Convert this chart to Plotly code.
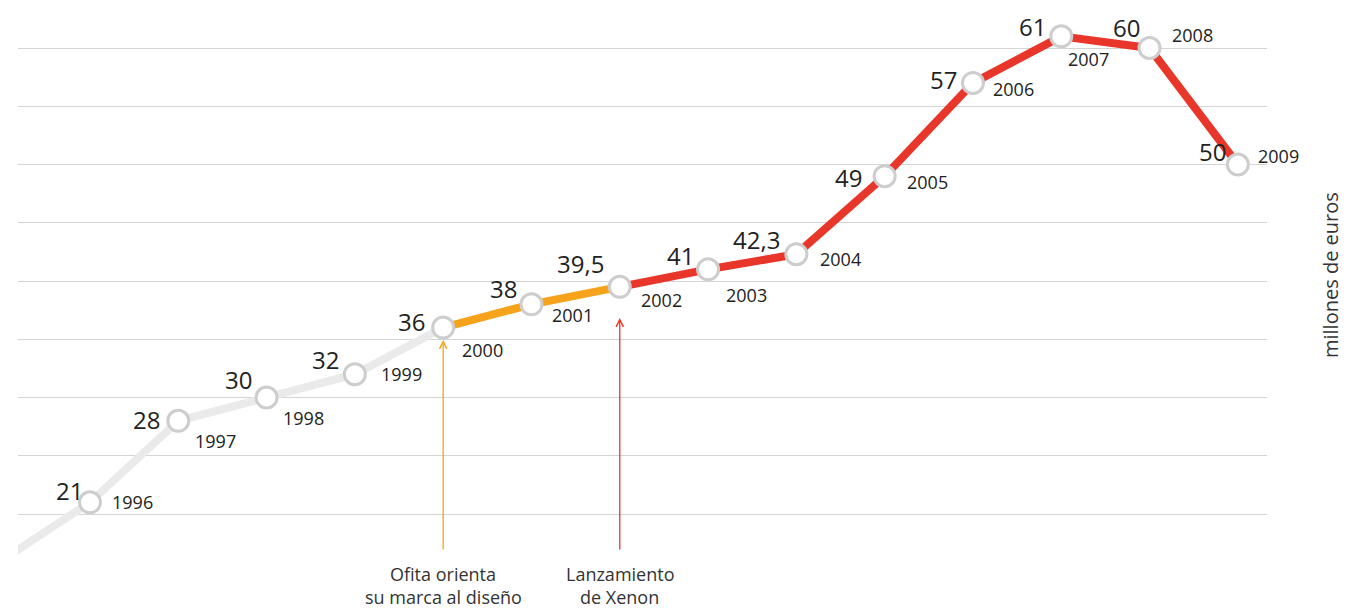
import plotly.graph_objects as go

# ---- data ----
years = [1996, 1997, 1998, 1999, 2000, 2001, 2002, 2003, 2004, 2005, 2006, 2007, 2008, 2009]
values = [21, 28, 30, 32, 36, 38, 39.5, 41, 42.3, 49, 57, 61, 60, 50]
value_labels = ["21", "28", "30", "32", "36", "38", "39,5", "41", "42,3", "49", "57", "61", "60", "50"]
year_labels = [str(y) for y in years]
lead_year, lead_value = 1995, 16  # line enters from the left edge

event_years = [2000, 2002]
event_lines = [["Ofita orienta", "su marca al diseño"], ["Lanzamiento", "de Xenon"]]
axis_title = "millones de euros"

# ---- styles / positions ----
GRAY = "#eaeaea"
ORANGE = "#f7a21b"
RED = "#e8372a"
TXT = "#222222"
FONT = "Open Sans"

val_off = [(-20, 12), (-32, 1), (-28, 18), (-29, 15), (-32, 6), (-28, 16), (-39, 23),
           (-28, 14), (-40, 15), (-36, -1), (-29, 3), (-29, 10), (-23, 21), (-25, 13)]
yr_off = [(20, 0), (15, -20), (14, -20), (24, 0), (17, -22), (19, -11), (19, -13),
          (16, -26), (22, -5), (20, -6), (18, -6), (5, -23), (20, 13), (18, 9)]
event_colors = [ORANGE, RED]
arrow_tip_px = [340, 318]
event_line_px = [574, 597]

# the figure sits at an 8px page offset; positions below are page pixels
OFF = 8
PX_PER_UNIT = 11.65
def px2val(p):
    return 20 + (514 - p) / PX_PER_UNIT

fig = go.Figure()

i2000 = years.index(2000)
i2002 = years.index(2002)
fig.add_trace(go.Scatter(x=[lead_year] + years[:i2000 + 1], y=[lead_value] + values[:i2000 + 1],
                         mode="lines", line=dict(color=GRAY, width=8), hoverinfo="skip"))
fig.add_trace(go.Scatter(x=years[i2000:i2002 + 1], y=values[i2000:i2002 + 1],
                         mode="lines", line=dict(color=ORANGE, width=8), hoverinfo="skip"))
fig.add_trace(go.Scatter(x=years[i2002:], y=values[i2002:],
                         mode="lines", line=dict(color=RED, width=8), hoverinfo="skip"))
fig.add_trace(go.Scatter(x=years, y=values, mode="markers", cliponaxis=False,
                         marker=dict(size=21, color="white", line=dict(color="#cdcdcd", width=3))))

ann = []
for i, (x, v) in enumerate(zip(years, values)):
    ann.append(dict(x=x, y=v, text=value_labels[i], showarrow=False, xanchor="center", yanchor="middle",
                    xshift=val_off[i][0], yshift=val_off[i][1],
                    font=dict(family=FONT, size=24, color=TXT)))
    ann.append(dict(x=x, y=v, text=year_labels[i], showarrow=False, xanchor="left", yanchor="middle",
                    xshift=yr_off[i][0], yshift=yr_off[i][1],
                    font=dict(family=FONT, size=18, color=TXT)))

for ey, lines, ec, tip in zip(event_years, event_lines, event_colors, arrow_tip_px):
    ann.append(dict(x=ey, y=px2val(tip), ax=ey, ay=px2val(551), axref="x", ayref="y",
                    xref="x", yref="y", showarrow=True, arrowhead=5, arrowsize=1.1,
                    arrowwidth=1.3, arrowcolor=ec, text=""))
    for line, lp in zip(lines, event_line_px):
        ann.append(dict(x=ey, y=px2val(lp), xref="x", yref="y", text=line, showarrow=False,
                        xanchor="center", yanchor="middle", align="center",
                        font=dict(family=FONT, size=18, color="#333333")))

ann.append(dict(xref="paper", yref="paper", x=1.0, y=0.5, xshift=63, yshift=34, text=axis_title,
                showarrow=False, textangle=-90, xanchor="center", yanchor="middle",
                font=dict(family=FONT, size=20, color="#333333")))

fig.update_layout(
    width=1350 - OFF, height=610 - OFF,
    margin=dict(l=18 - OFF, r=83, t=0, b=0),
    paper_bgcolor="white", plot_bgcolor="white",
    showlegend=False,
    annotations=ann,
    xaxis=dict(range=[1995.185, 2009.33], showgrid=False, zeroline=False, showticklabels=False,
               showline=False, ticks=""),
    yaxis=dict(range=[px2val(610), px2val(OFF)], tickvals=[20, 25, 30, 35, 40, 45, 50, 55, 60],
               showgrid=True, gridcolor="#d4d4d4", gridwidth=1, zeroline=False,
               showticklabels=False, showline=False, ticks=""),
)

fig.write_html("out.html")
